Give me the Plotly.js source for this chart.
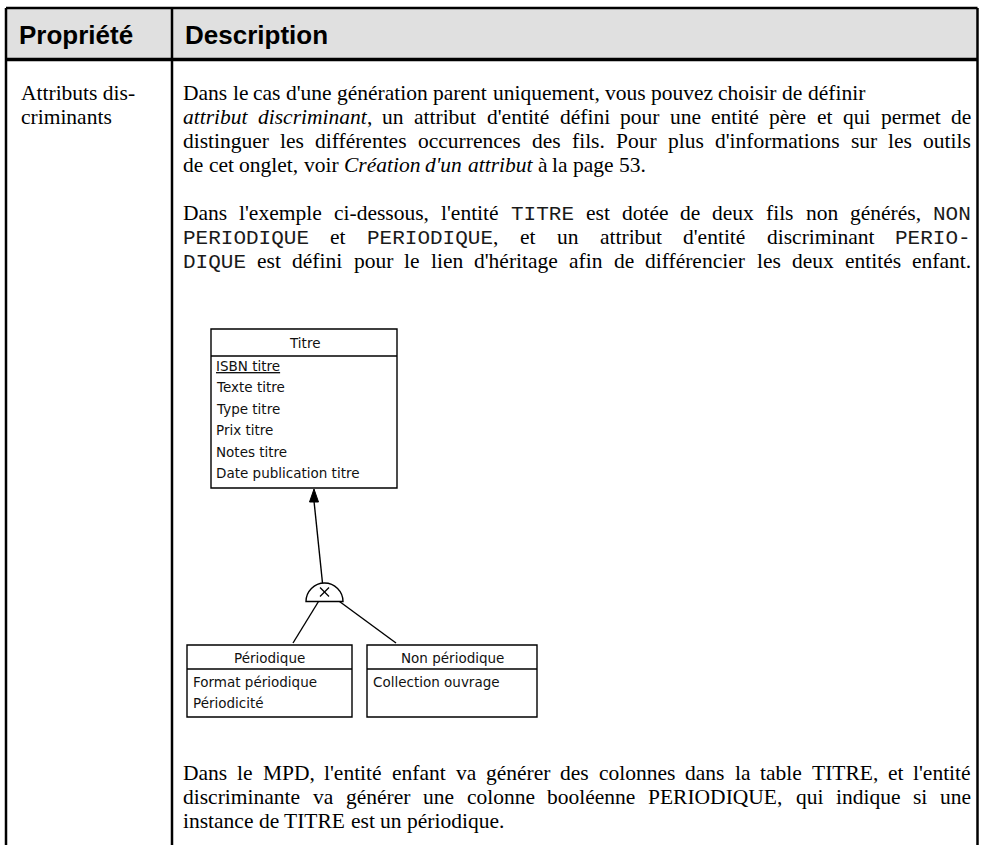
<!DOCTYPE html>
<html><head><meta charset="utf-8">
<script src="https://cdn.plot.ly/plotly-3.0.1.min.js"></script>
<style>html,body{margin:0;padding:0;background:#fff;overflow:hidden}#chart{width:983px;height:845px}</style>
</head><body><div id="chart"></div>
<script>
// ---------- DATA ----------
const headers = ["Propriété", "Description"];
const propertyLines = ["Attributs dis-", "criminants"];
// markup: *italic*  `monospace`
const para1 = [
  "Dans le cas d'une génération parent uniquement, vous pouvez choisir de définir",
  "*attribut discriminant*, un attribut d'entité défini pour une entité père et qui permet de",
  "distinguer les différentes occurrences des fils. Pour plus d'informations sur les outils",
  "de cet onglet, voir *Création d'un attribut* à la page 53."
];
const para1Justify = [false, true, true, false];
const para2 = [
  "Dans l'exemple ci-dessous, l'entité `TITRE` est dotée de deux fils non générés, `NON`",
  "`PERIODIQUE` et `PERIODIQUE`, et un attribut d'entité discriminant `PERIO-`",
  "`DIQUE` est défini pour le lien d'héritage afin de différencier les deux entités enfant."
];
const para2Justify = [true, true, true];
const para3 = [
  "Dans le MPD, l'entité enfant va générer des colonnes dans la table TITRE, et l'entité",
  "discriminante va générer une colonne booléenne PERIODIQUE, qui indique si une",
  "instance de TITRE est un périodique."
];
const para3Justify = [true, true, false];
const parentEntity = "Titre";
const parentAttributes = ["ISBN titre", "Texte titre", "Type titre", "Prix titre", "Notes titre", "Date publication titre"];
const identifierAttributes = ["ISBN titre"];
const childEntities = ["Périodique", "Non périodique"];
const childAttributes = [["Format périodique", "Périodicité"], ["Collection ouvrage"]];

// ---------- STYLE / LAYOUT ----------
const W = 983, H = 845;
const SERIF = "Liberation Serif", SERIF_SIZE = 21.5;
const MONO = "Liberation Mono", MONO_SIZE = 21;
const SANS = "Liberation Sans", HEAD_SIZE = 26;
const DIAG = "DejaVu Sans", DIAG_SIZE = 13.5;
const T = {left: 6, right: 977.5, top: 8, headBottom: 59.5, col: 172};
const TEXT_L = 183, TEXT_R = 971, LINE = 24;
const BASE_OFF = 0.3375 * SERIF_SIZE;
const MONO_OFF = 0.2665 * MONO_SIZE;

const canvas = document.createElement('canvas');
const ctx = canvas.getContext('2d');
function fontStr(st){
  if (st === 'mono') return MONO_SIZE + 'px "' + MONO + '"';
  if (st === 'italic') return 'italic ' + SERIF_SIZE + 'px "' + SERIF + '"';
  return SERIF_SIZE + 'px "' + SERIF + '"';
}
function measure(txt, st){ ctx.font = fontStr(st); return ctx.measureText(txt).width; }
function esc(s){ return s.replace(/&/g,'&amp;').replace(/</g,'&lt;').replace(/>/g,'&gt;'); }

function parseLine(line){
  const runs = []; let cur = '', st = 'normal';
  for (const ch of line){
    if (ch === '*' || ch === '`'){
      if (cur) runs.push({text: cur, st});
      cur = '';
      const ns = ch === '*' ? 'italic' : 'mono';
      st = (st === ns) ? 'normal' : ns;
    } else cur += ch;
  }
  if (cur) runs.push({text: cur, st});
  const words = []; let w = [];
  runs.forEach(r => {
    const parts = r.text.split(' ');
    parts.forEach((p, i) => {
      if (i > 0) { if (w.length) words.push(w); w = []; }
      if (p) w.push({text: p, st: r.st});
    });
  });
  if (w.length) words.push(w);
  return words;
}

const annotations = [];
function addText(x, y, text, font, xanchor){
  annotations.push({x, y, xref:'x', yref:'y', text, showarrow:false,
    xanchor: xanchor || 'left', yanchor:'middle', borderpad:0, borderwidth:0, font});
}
function fontObj(st){
  if (st === 'mono') return {family: MONO, size: MONO_SIZE, color:'#1a1a1a'};
  if (st === 'italic') return {family: SERIF, size: SERIF_SIZE, color:'#000', style:'italic'};
  return {family: SERIF, size: SERIF_SIZE, color:'#000'};
}
function layoutPara(lines, just, firstBaseline){
  lines.forEach((line, li) => {
    const words = parseLine(line);
    const widths = words.map(w => w.reduce((s, p) => s + measure(p.text, p.st), 0));
    const total = widths.reduce((a, b) => a + b, 0);
    const gap = (just[li] && words.length > 1) ? (TEXT_R - TEXT_L - total) / (words.length - 1) : measure(' ', 'normal');
    let x = TEXT_L;
    const baseline = firstBaseline + li * LINE;
    words.forEach((w, wi) => {
      let px = x;
      w.forEach(p => {
        const yy = p.st === 'mono' ? baseline - MONO_OFF : baseline - BASE_OFF;
        addText(px, yy, esc(p.text), fontObj(p.st));
        px += measure(p.text, p.st);
      });
      x += widths[wi] + gap;
    });
  });
}

// header texts
const headFont = {family: SANS, size: HEAD_SIZE, color:'#000', weight: 'bold'};
addText(19, 35, '<b>' + headers[0] + '</b>', headFont);
addText(185, 35, '<b>' + headers[1] + '</b>', headFont);
// property column
propertyLines.forEach((t, i) => addText(21, 100 + i * LINE - BASE_OFF, esc(t), fontObj('normal')));
// paragraphs
layoutPara(para1, para1Justify, 100);
layoutPara(para2, para2Justify, 220);
layoutPara(para3, para3Justify, 780);

// ---------- SHAPES ----------
const shapes = [];
const line = (x0,y0,x1,y1,w) => shapes.push({type:'line', xref:'x', yref:'y', x0,y0,x1,y1, line:{color:'#000', width:w||1}});
const rect = (x0,y0,x1,y1,w,fill) => shapes.push({type:'rect', xref:'x', yref:'y', x0,y0,x1,y1, line:{color:'#000', width:w||1}, fillcolor: fill || 'rgba(0,0,0,0)'});
// table
shapes.push({type:'rect', xref:'x', yref:'y', x0:T.left, y0:T.top, x1:T.right, y1:T.headBottom, line:{width:0}, fillcolor:'#e0e0e0', layer:'below'});
line(T.left, T.top, T.right, T.top, 2.5);
line(T.left, T.top, T.left, H + 5, 2.5);
line(T.right, T.top, T.right, H + 5, 2.5);
line(T.col, T.top, T.col, H + 5, 2.5);
line(T.left, T.headBottom, T.right, T.headBottom, 3.5);

// diagram: parent entity
const P = {x0: 211, x1: 397, y0: 329, sep: 356, y1: 488};
rect(P.x0, P.y0, P.x1, P.y1, 1.4);
line(P.x0, P.sep, P.x1, P.sep, 1.4);
const dFont = {family: DIAG, size: DIAG_SIZE, color:'#111'};
addText((P.x0 + P.x1) / 2, 343, esc(parentEntity), dFont, 'center');
parentAttributes.forEach((a, i) => {
  const f = Object.assign({}, dFont);
  if (identifierAttributes.includes(a)) f.lineposition = 'under';
  addText(P.x0 + 5, 366 + i * 21.4, esc(a), f);
});
// inheritance arrow
const tip = {x: 314, y: 489};
shapes.push({type:'path', xref:'x', yref:'y', path:`M${tip.x},${tip.y} L${tip.x-4.5},${tip.y+13} L${tip.x+4.5},${tip.y+13} Z`, fillcolor:'#000', line:{color:'#000', width:1}});
const S = {cx: 324.5, base: 601.5, r: 18.5};
line(tip.x, tip.y + 12, S.cx - 2, S.base - S.r, 1.4);
// half-circle inheritance symbol
const k = 0.5523 * S.r;
shapes.push({type:'path', xref:'x', yref:'y',
  path:`M${S.cx-S.r},${S.base} C${S.cx-S.r},${S.base-k} ${S.cx-k},${S.base-S.r} ${S.cx},${S.base-S.r} C${S.cx+k},${S.base-S.r} ${S.cx+S.r},${S.base-k} ${S.cx+S.r},${S.base} Z`,
  fillcolor:'#fff', line:{color:'#000', width:1.4}});
line(S.cx - 4.5, S.base - 14, S.cx + 4.5, S.base - 5, 1.2);
line(S.cx - 4.5, S.base - 5, S.cx + 4.5, S.base - 14, 1.2);
// children boxes
const C = [{x0: 187, x1: 352}, {x0: 367, x1: 537}];
const CY = {y0: 645, sep: 669, y1: 717};
line(S.cx - 6, S.base, 293, CY.y0 - 2, 1.4);
line(S.cx + 15, S.base, 396, CY.y0 - 2, 1.4);
childEntities.forEach((name, ci) => {
  const b = C[ci];
  rect(b.x0, CY.y0, b.x1, CY.y1, 1.4);
  line(b.x0, CY.sep, b.x1, CY.sep, 1.4);
  addText((b.x0 + b.x1) / 2, 658, esc(name), dFont, 'center');
  childAttributes[ci].forEach((a, i) => addText(b.x0 + 6, 682 + i * 21, esc(a), dFont));
});

const layout = {
  width: W, height: H, margin: {l:0, r:0, t:0, b:0, pad:0},
  paper_bgcolor:'#fff', plot_bgcolor:'#fff', showlegend:false,
  xaxis: {range:[0, W], visible:false, fixedrange:true},
  yaxis: {range:[H, 0], visible:false, fixedrange:true},
  shapes, annotations
};
Plotly.newPlot('chart', [{x:[], y:[], type:'scatter', mode:'lines', hoverinfo:'skip'}], layout, {staticPlot:true, displayModeBar:false});
</script>
</body></html>
